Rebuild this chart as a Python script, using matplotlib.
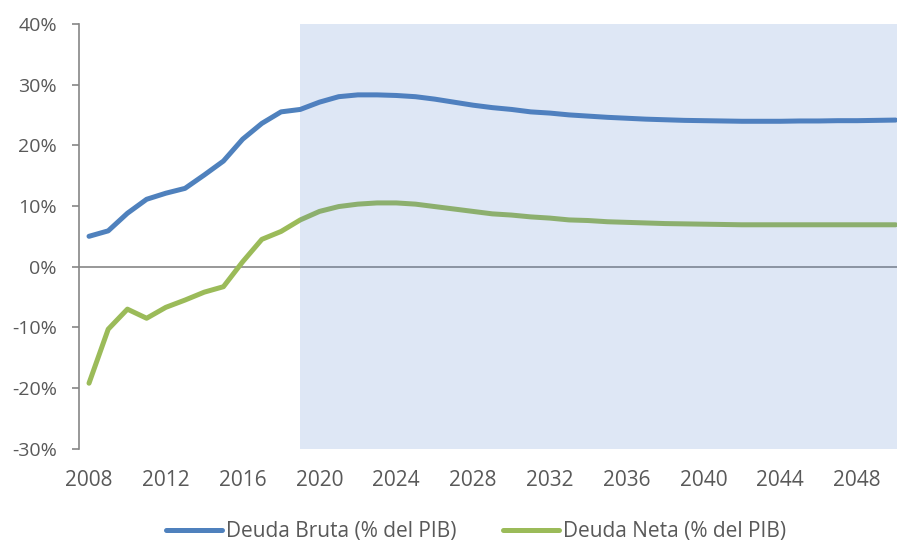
import numpy as np
import matplotlib.pyplot as plt
from matplotlib.ticker import FuncFormatter

plt.rcParams['font.family'] = ['Open Sans', 'DejaVu Sans']

# Datos (% del PIB)
years = list(range(2008, 2051))
deuda_bruta = [5.0, 5.9, 8.8, 11.1, 12.1, 12.9, 15.1, 17.4, 21.0, 23.6, 25.5, 25.9,
               27.1, 28.0, 28.3, 28.3, 28.2, 28.0, 27.6, 27.1, 26.6, 26.2, 25.9, 25.5,
               25.3, 25.0, 24.8, 24.6, 24.45, 24.3, 24.2, 24.1, 24.05, 24.0, 23.95, 23.95,
               23.95, 24.0, 24.0, 24.05, 24.05, 24.1, 24.15]
deuda_neta = [-19.2, -10.3, -7.0, -8.5, -6.7, -5.5, -4.2, -3.3, 0.8, 4.5, 5.8, 7.7,
              9.1, 9.9, 10.3, 10.5, 10.5, 10.3, 9.9, 9.5, 9.1, 8.7, 8.5, 8.2,
              8.0, 7.7, 7.6, 7.4, 7.3, 7.2, 7.1, 7.05, 7.0, 6.95, 6.9, 6.9,
              6.9, 6.9, 6.9, 6.9, 6.9, 6.9, 6.9]
inicio_proyeccion = 2019
yticks = [-30, -20, -10, 0, 10, 20, 30, 40]
xticks = list(range(2008, 2050, 4))

gris = '#595959'
fig = plt.figure(figsize=(8.98, 5.42), dpi=100)
ax = fig.add_axes([0.088, 0.172, 0.911, 0.784])

ax.plot(years, deuda_bruta, color='#4F81BD', lw=3.6, label='Deuda Bruta (% del PIB)',
        solid_capstyle='round', zorder=2)
ax.plot(years, deuda_neta, color='#9BBB59', lw=3.6, label='Deuda Neta (% del PIB)',
        solid_capstyle='round', zorder=2)

# zona de proyección (sombreada por encima de las líneas)
ax.axvspan(inicio_proyeccion, 2051, color='#5080CA', alpha=0.19, lw=0, zorder=3)
ax.axhline(0, color='#868686', lw=1.2, zorder=1)

ax.set_xlim(2007.48, 2050.08)
ax.set_ylim(-30, 40)
ax.set_yticks(yticks)
ax.set_xticks(xticks)
ax.yaxis.set_major_formatter(FuncFormatter(lambda v, p: f'{v:.0f}%'))

for s in ['top', 'right', 'bottom']:
    ax.spines[s].set_visible(False)
ax.spines['left'].set_color('#868686')
ax.spines['left'].set_linewidth(1.2)
ax.tick_params(axis='y', colors='#868686', length=5, width=1.2, labelcolor=gris,
               labelsize=14, pad=11)
ax.tick_params(axis='x', length=0, labelcolor=gris, labelsize=15, pad=15)

fig.legend(loc='center', bbox_to_anchor=(0.53, 0.019), ncol=2, frameon=False,
           fontsize=15, handlelength=2.7, columnspacing=2.2, handletextpad=0.2,
           labelcolor=gris)

fig.savefig('out.png', dpi=100)
